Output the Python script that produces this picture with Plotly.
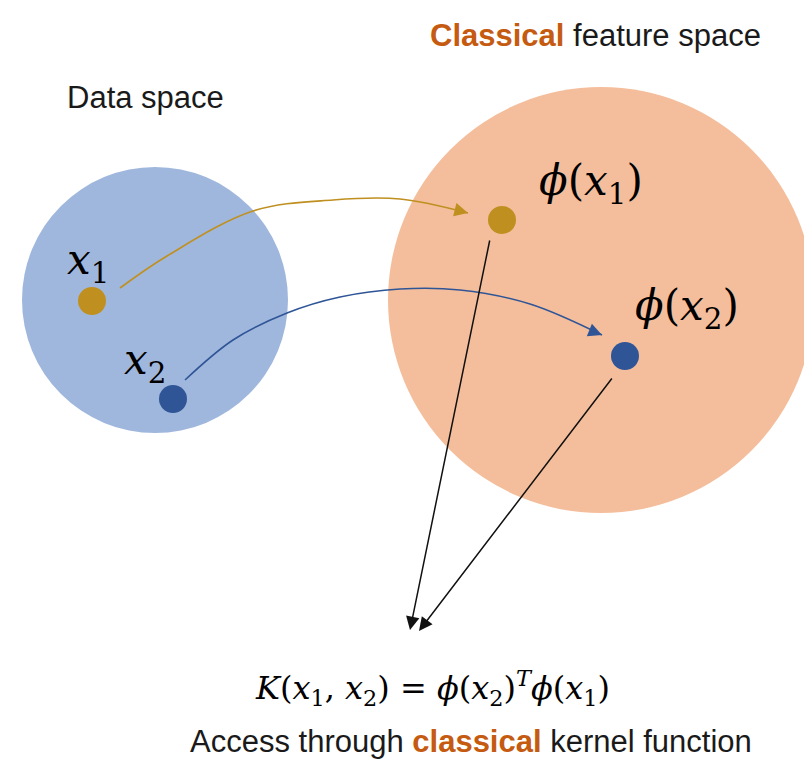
import plotly.graph_objects as go

W, H = 804, 761

# Regions (center x, center y, radius) in pixel-like coordinates
region_names = ["Data space", "Classical feature space"]
region_cx = [155, 601]
region_cy = [300, 300]
region_r = [133, 213]
region_colors = ["#A0B7DD", "#F4BE9C"]

# Points
point_names = ["x1", "x2", "phi_x1", "phi_x2"]
point_x = [92, 173, 502, 625]
point_y = [301, 399, 220, 356]
point_colors = ["#BF9020", "#2F5597", "#BF9020", "#2F5597"]

# Curved mapping paths (waypoints)
gold_path_x = [120, 167, 253, 333, 400, 468]
gold_path_y = [288, 256, 211, 200, 199, 213]
blue_path_x = [185, 233, 287, 340, 400, 460, 530, 602]
blue_path_y = [380, 340, 313, 297, 289, 290, 304, 335]

# Kernel arrows (start -> tip)
kernel_start_x = [490, 613]
kernel_start_y = [239, 377]
kernel_tip_x = [410, 419]
kernel_tip_y = [630, 631]

# Labels
label_texts = [
    "<i>x</i><sub>1</sub>",
    "<i>x</i><sub>2</sub>",
    "<i>ϕ</i>(<i>x</i><sub>1</sub>)",
    "<i>ϕ</i>(<i>x</i><sub>2</sub>)",
]
label_x = [88, 145, 591, 687]
label_y = [262, 362, 183, 308]

ORANGE = "#C55A11"
MATH_FONT = "DejaVu Serif"
TEXT_FONT = "Liberation Sans, Arial, sans-serif"

fig = go.Figure()

for cx, cy, r, col in zip(region_cx, region_cy, region_r, region_colors):
    fig.add_shape(type="circle", xref="x", yref="y",
                  x0=cx - r, x1=cx + r, y0=cy - r, y1=cy + r,
                  fillcolor=col, line=dict(width=0), layer="below")

fig.add_trace(go.Scatter(x=gold_path_x, y=gold_path_y, mode="lines",
                         line=dict(color="#BF9020", width=1.6, shape="spline", smoothing=1.0),
                         hoverinfo="skip", showlegend=False))
fig.add_trace(go.Scatter(x=blue_path_x, y=blue_path_y, mode="lines",
                         line=dict(color="#2F5597", width=1.6, shape="spline", smoothing=1.0),
                         hoverinfo="skip", showlegend=False))

fig.add_trace(go.Scatter(x=point_x, y=point_y, mode="markers",
                         marker=dict(size=28, color=point_colors, line=dict(width=0)),
                         hoverinfo="skip", showlegend=False))

# arrowheads for curves
fig.add_annotation(x=gold_path_x[-1], y=gold_path_y[-1], ax=gold_path_x[-1] - 10, ay=gold_path_y[-1] - 2.5,
                   xref="x", yref="y", axref="x", ayref="y", text="", showarrow=True,
                   arrowhead=2, arrowsize=1.7, arrowwidth=1.6, arrowcolor="#BF9020", standoff=0)
fig.add_annotation(x=blue_path_x[-1], y=blue_path_y[-1], ax=blue_path_x[-1] - 10, ay=blue_path_y[-1] - 4,
                   xref="x", yref="y", axref="x", ayref="y", text="", showarrow=True,
                   arrowhead=2, arrowsize=1.7, arrowwidth=1.6, arrowcolor="#2F5597", standoff=0)

for sx, sy, tx, ty in zip(kernel_start_x, kernel_start_y, kernel_tip_x, kernel_tip_y):
    fig.add_annotation(x=tx, y=ty, ax=sx, ay=sy, xref="x", yref="y", axref="x", ayref="y",
                       text="", showarrow=True, arrowhead=2, arrowsize=1.8, arrowwidth=1.5,
                       arrowcolor="#111111", standoff=0)

for t, x, y in zip(label_texts, label_x, label_y):
    fig.add_annotation(x=x, y=y, xref="x", yref="y", text=t, showarrow=False,
                       font=dict(family=MATH_FONT, size=42, color="#000000"),
                       xanchor="center", yanchor="middle")

fig.add_annotation(x=145, y=97, xref="x", yref="y", text="Data space", showarrow=False,
                   font=dict(family=TEXT_FONT, size=31, color="#1a1a1a"),
                   xanchor="center", yanchor="middle")
fig.add_annotation(x=595, y=35, xref="x", yref="y",
                   text=f"<b><span style='color:{ORANGE}'>Classical</span></b> feature space",
                   showarrow=False, font=dict(family=TEXT_FONT, size=31, color="#1a1a1a"),
                   xanchor="center", yanchor="middle")
fig.add_annotation(x=432, y=688, xref="x", yref="y",
                   text="<i>K</i>(<i>x</i><sub>1</sub>, <i>x</i><sub>2</sub>) = <i>ϕ</i>(<i>x</i><sub>2</sub>)<sup><i>T</i></sup><i>ϕ</i>(<i>x</i><sub>1</sub>)",
                   showarrow=False, font=dict(family=MATH_FONT, size=32, color="#000000"),
                   xanchor="center", yanchor="middle")
fig.add_annotation(x=471, y=741, xref="x", yref="y",
                   text=f"Access through <b><span style='color:{ORANGE}'>classical</span></b> kernel function",
                   showarrow=False, font=dict(family=TEXT_FONT, size=31, color="#1a1a1a"),
                   xanchor="center", yanchor="middle")

fig.update_layout(
    width=W, height=H,
    margin=dict(l=0, r=0, t=0, b=0),
    paper_bgcolor="white", plot_bgcolor="white",
    xaxis=dict(range=[0, W], visible=False, fixedrange=True),
    yaxis=dict(range=[H, 0], visible=False, fixedrange=True),
    showlegend=False,
)

fig.write_html("out.html", config={"displayModeBar": False},
               post_script="document.body.style.margin='0';document.body.style.overflow='hidden';")
